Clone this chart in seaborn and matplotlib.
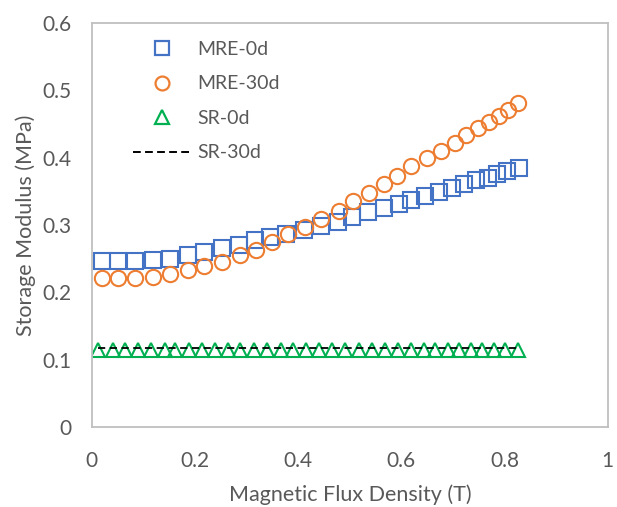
import matplotlib
matplotlib.use("Agg")
import matplotlib.pyplot as plt
from matplotlib.lines import Line2D
import seaborn as sns

# ── Data ──────────────────────────────────────────────────────────────
B_MRE0 = [0.019, 0.051, 0.083, 0.119, 0.151, 0.186, 0.217, 0.252, 0.286, 0.316,
          0.346, 0.377, 0.411, 0.445, 0.477, 0.505, 0.536, 0.566, 0.595, 0.619,
          0.645, 0.672, 0.698, 0.721, 0.744, 0.767, 0.786, 0.805, 0.827]
G_MRE0 = [0.246, 0.246, 0.246, 0.2475, 0.250, 0.255, 0.260, 0.265, 0.270, 0.277,
          0.282, 0.287, 0.292, 0.299, 0.304, 0.311, 0.319, 0.3245, 0.331, 0.337,
          0.343, 0.349, 0.354, 0.360, 0.366, 0.370, 0.376, 0.380, 0.385]

B_MRE30 = [0.019, 0.051, 0.083, 0.119, 0.151, 0.187, 0.217, 0.252, 0.287, 0.318,
           0.350, 0.380, 0.413, 0.445, 0.479, 0.507, 0.537, 0.566, 0.592, 0.619,
           0.649, 0.676, 0.703, 0.725, 0.748, 0.769, 0.790, 0.807, 0.826]
G_MRE30 = [0.2215, 0.2215, 0.2215, 0.223, 0.227, 0.233, 0.239, 0.245, 0.255, 0.262,
           0.2745, 0.286, 0.297, 0.309, 0.321, 0.335, 0.348, 0.361, 0.3725, 0.387,
           0.3995, 0.410, 0.4215, 0.434, 0.4435, 0.453, 0.462, 0.4705, 0.481]

B_SR = [0.012, 0.040, 0.064, 0.089, 0.114, 0.141, 0.162, 0.189, 0.214, 0.239,
        0.263, 0.288, 0.315, 0.340, 0.366, 0.390, 0.415, 0.440, 0.465, 0.490,
        0.517, 0.542, 0.569, 0.593, 0.618, 0.643, 0.666, 0.690, 0.712, 0.735,
        0.757, 0.780, 0.800, 0.826]
G_SR0 = [0.114, 0.114, 0.114, 0.114, 0.114, 0.114, 0.114, 0.114, 0.114, 0.114,
         0.114, 0.114, 0.114, 0.114, 0.114, 0.114, 0.114, 0.114, 0.114, 0.114,
         0.114, 0.114, 0.114, 0.114, 0.114, 0.114, 0.114, 0.114, 0.114, 0.114,
         0.114, 0.114, 0.114, 0.114]
G_SR30 = [0.117, 0.117, 0.117, 0.117, 0.117, 0.117, 0.117, 0.117, 0.117, 0.117,
          0.117, 0.117, 0.117, 0.117, 0.117, 0.117, 0.117, 0.117, 0.117, 0.117,
          0.117, 0.117, 0.117, 0.117, 0.117, 0.117, 0.117, 0.117, 0.117, 0.117,
          0.117, 0.117, 0.117, 0.117]

X_TICKS = [0, 0.2, 0.4, 0.6, 0.8, 1]
X_TICKLABELS = ["0", "0.2", "0.4", "0.6", "0.8", "1"]
Y_TICKS = [0, 0.1, 0.2, 0.3, 0.4, 0.5, 0.6]
Y_TICKLABELS = ["0", "0.1", "0.2", "0.3", "0.4", "0.5", "0.6"]
LABELS = ["MRE-0d", "MRE-30d", "SR-0d", "SR-30d"]

# ── Style ─────────────────────────────────────────────────────────────
BLUE, ORANGE, GREEN = "#4472C4", "#ED7D31", "#00B050"
GREY_TXT, GREY_FRAME = "#595959", "#BFBFBF"

sns.set_theme(style="white")
plt.rcParams["font.family"] = ["Lato", "DejaVu Sans"]

fig = plt.figure(figsize=(6.17, 5.07), dpi=100)
ax = fig.add_axes([0.149, 0.158, 0.836, 0.797])

mk = dict(linestyle="none", markerfacecolor="none", markeredgewidth=1.5)
sns.lineplot(x=B_MRE0, y=G_MRE0, ax=ax, marker="s", markersize=11,
             color=BLUE, markeredgecolor=BLUE, **mk)
sns.lineplot(x=B_MRE30, y=G_MRE30, ax=ax, marker="o", markersize=11,
             color=ORANGE, markeredgecolor=ORANGE, **mk)
sns.lineplot(x=B_SR, y=G_SR0, ax=ax, marker="^", markersize=10,
             color=GREEN, markeredgecolor=GREEN, **mk)
sns.lineplot(x=B_SR, y=G_SR30, ax=ax, color="black", linewidth=1.3,
             dashes=(4, 2.5), zorder=3)

ax.set_xlim(0, 1)
ax.set_ylim(0, 0.6)
ax.set_xticks(X_TICKS)
ax.set_xticklabels(X_TICKLABELS)
ax.set_yticks(Y_TICKS)
ax.set_yticklabels(Y_TICKLABELS)
ax.tick_params(axis="both", length=0, labelsize=15, colors=GREY_TXT)
ax.tick_params(axis="x", pad=17)
ax.tick_params(axis="y", pad=15)
for s in ax.spines.values():
    s.set_color(GREY_FRAME)
    s.set_linewidth(1.3)

ax.set_xlabel("Magnetic Flux Density (T)", fontsize=15.5, color=GREY_TXT, labelpad=10)
ax.set_ylabel("Storage Modulus (MPa)", fontsize=15.5, color=GREY_TXT, labelpad=4)

# legend built by hand, Excel style
handles = [
    Line2D([], [], marker="s", ms=10, ls="none", mfc="none", mec=BLUE, mew=1.6),
    Line2D([], [], marker="o", ms=10, ls="none", mfc="none", mec=ORANGE, mew=1.6),
    Line2D([], [], marker="^", ms=10, ls="none", mfc="none", mec=GREEN, mew=1.6),
    Line2D([], [], color="black", lw=1.4, dashes=(4, 2.2)),
]
leg = ax.legend(handles, LABELS, loc="upper left", bbox_to_anchor=(0.079, 0.955),
                frameon=False, fontsize=14, handlelength=3.0, handletextpad=0.3,
                labelspacing=0.9, borderpad=0, borderaxespad=0)
for t in leg.get_texts():
    t.set_color(GREY_TXT)

fig.savefig("out.png", dpi=100)
plt.close(fig)
